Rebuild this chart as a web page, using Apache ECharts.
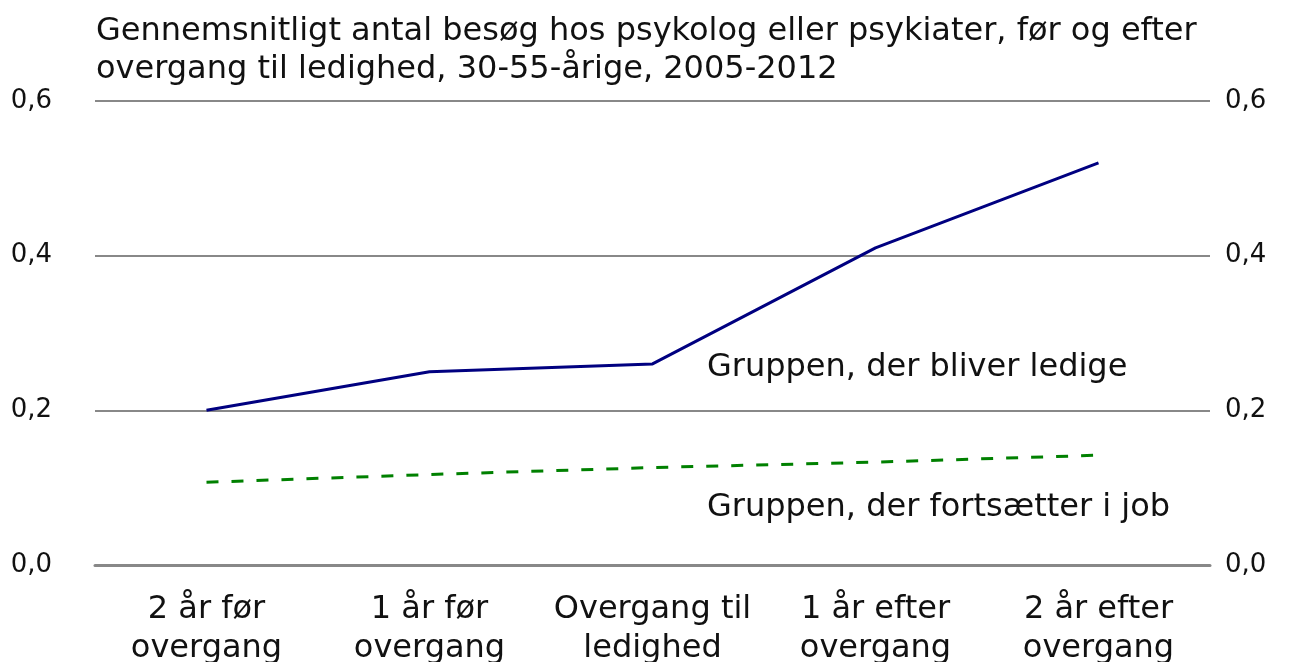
<!DOCTYPE html>
<html>
<head>
<meta charset="utf-8">
<script src="https://cdn.jsdelivr.net/npm/echarts@6/dist/echarts.min.js"></script>
<style>
  html, body { margin: 0; padding: 0; background: #fff; }
  #chart { width: 1297px; height: 662px; }
</style>
</head>
<body>
<div id="chart"></div>
<script>
const categories = [
    '2 år før\novergang',
    '1 år før\novergang',
    'Overgang til\nledighed',
    '1 år efter\novergang',
    '2 år efter\novergang'
];
const ledigeValues = [0.20, 0.25, 0.26, 0.41, 0.52];
const jobValues = [0.107, 0.117, 0.126, 0.133, 0.142];
const yTicks = [0, 0.2, 0.4, 0.6];

const font = 'DejaVu Sans, Verdana, sans-serif';
const chart = echarts.init(document.getElementById('chart'));

const fmt = v => v.toFixed(1).replace('.', ',');

const option = {
    backgroundColor: '#fff',
    animation: false,
    title: {
        text: 'Gennemsnitligt antal besøg hos psykolog eller psykiater, før og efter\novergang til ledighed, 30-55-årige, 2005-2012',
        left: 91,
        top: 8,
        textStyle: {
            fontFamily: font,
            fontSize: 32,
            fontWeight: 'normal',
            color: '#111',
            lineHeight: 38
        }
    },
    grid: {
        left: 95,
        right: 87,
        top: 101,
        bottom: 97,
        outerBoundsMode: 'none'
    },
    xAxis: {
        type: 'category',
        data: categories,
        boundaryGap: true,
        axisLine: { lineStyle: { color: '#888', width: 3 } },
        axisTick: { length: 12, lineStyle: { color: '#888', width: 3 } },
        axisLabel: {
            fontFamily: font,
            fontSize: 32,
            color: '#111',
            margin: 25,
            lineHeight: 39,
            interval: 0
        }
    },
    yAxis: [
        {
            type: 'value',
            min: yTicks[0],
            max: yTicks[yTicks.length - 1],
            interval: 0.2,
            axisLine: { show: false },
            axisTick: { show: false },
            splitLine: { lineStyle: { color: '#888', width: 2 } },
            axisLabel: {
                fontFamily: font,
                fontSize: 26,
                color: '#111',
                margin: 43,
                formatter: fmt
            }
        },
        {
            type: 'value',
            position: 'right',
            min: yTicks[0],
            max: yTicks[yTicks.length - 1],
            interval: 0.2,
            axisLine: { show: false },
            axisTick: { show: false },
            splitLine: { show: false },
            axisLabel: {
                fontFamily: font,
                fontSize: 26,
                color: '#111',
                margin: 15,
                formatter: fmt
            }
        }
    ],
    series: [
        {
            name: 'Gruppen, der bliver ledige',
            type: 'line',
            data: ledigeValues,
            symbol: 'none',
            lineStyle: { color: '#000080', width: 3 }
        },
        {
            name: 'Gruppen, der fortsætter i job',
            type: 'line',
            data: jobValues,
            symbol: 'none',
            lineStyle: { color: '#008000', width: 3, type: [12, 13] }
        }
    ],
    graphic: [
        {
            type: 'text',
            left: 707,
            top: 352,
            style: {
                text: 'Gruppen, der bliver ledige',
                font: '32px ' + font,
                fill: '#111'
            }
        },
        {
            type: 'text',
            left: 707,
            top: 492,
            style: {
                text: 'Gruppen, der fortsætter i job',
                font: '32px ' + font,
                fill: '#111'
            }
        }
    ]
};

chart.setOption(option);
</script>
</body>
</html>
